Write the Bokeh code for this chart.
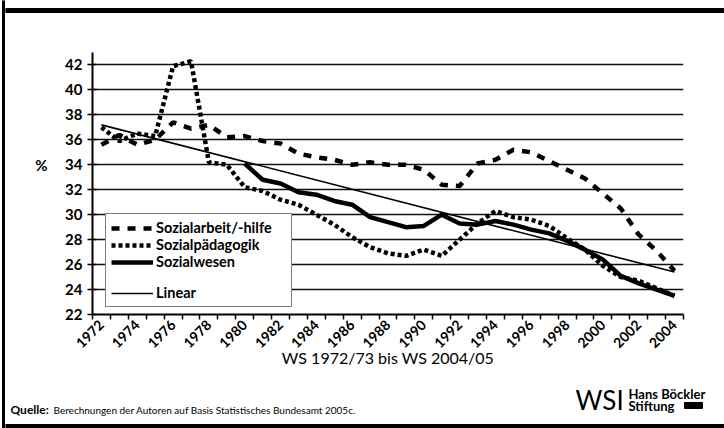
import math
from bokeh.plotting import figure
from bokeh.layouts import row, column
from bokeh.models import Range1d, FixedTicker, Legend, LegendItem, LinearAxis
from bokeh.core.properties import value
from bokeh.embed import file_html
from bokeh.resources import INLINE

nan = float("nan")

years = list(range(1972, 2005))
sozialarbeit = [35.6, 36.4, 35.6, 36.0, 37.4, 36.9, 37.2, 36.2, 36.3, 35.9,
                35.7, 34.9, 34.6, 34.4, 34.0, 34.2, 34.0, 34.0, 33.6, 32.4,
                32.3, 34.1, 34.4, 35.2, 35.0, 34.3, 33.6, 32.9, 31.7, 30.5,
                28.4, 27.1, 25.5]
sozialpaedagogik = [37.0, 35.9, 36.5, 36.3, 41.9, 42.3, 34.2, 34.0, 32.2, 31.9,
                    31.2, 30.8, 30.0, 29.2, 28.2, 27.4, 26.9, 26.7, 27.2, 26.7,
                    28.0, 29.3, 30.3, 29.8, 29.6, 29.1, 28.1, 27.2, 25.9, 25.0,
                    24.7, 24.1, 23.5]
sozialwesen = [nan, nan, nan, nan, nan, nan, nan, nan,
               34.1, 32.8, 32.5, 31.8, 31.6, 31.1, 30.8, 29.8, 29.4, 29.0,
               29.1, 30.0, 29.3, 29.2, 29.5, 29.2, 28.8, 28.5, 27.9, 27.2,
               26.4, 25.1, 24.5, 24.0, 23.5]
linear_years = [1972, 2004]
linear_values = [37.2, 25.4]

y_ticks = list(range(22, 43, 2))
x_tick_years = list(range(1972, 2005, 2))
x_tick_labels = [str(y) for y in x_tick_years]
x_boundaries = [y - 0.5 for y in years] + [years[-1] + 0.5]
unit_tick = [34]

FONT = "Lato"


def blank(width, height, xr, yr):
    f = figure(width=width, height=height, output_backend="svg", toolbar_location=None,
               x_range=Range1d(*xr), y_range=Range1d(*yr),
               x_axis_location=None, y_axis_location=None, min_border=0)
    f.frame_align = False
    f.outline_line_color = None
    f.grid.visible = False
    f.background_fill_color = "white"
    f.border_fill_color = "white"
    return f


# ---------- decorative frame pieces ----------
leftbar = blank(5, 428, (0, 5), (428, 0))
leftbar.quad(left=[2], right=[5], top=[0], bottom=[428], color="black")

topbar = blank(719, 13, (0, 719), (13, 0))
topbar.quad(left=[0], right=[719], top=[8], bottom=[12], color="black")

# ---------- main chart ----------
p = figure(width=719, height=367, output_backend="svg", toolbar_location=None,
           x_range=Range1d(1971.5, 2004.5), y_range=Range1d(22, 43),
           min_border_left=87, min_border_right=41, min_border_top=39,
           min_border_bottom=66)
p.frame_align = False
p.outline_line_color = None
p.background_fill_color = "white"
p.border_fill_color = "white"

p.xgrid.grid_line_color = None
p.ygrid.ticker = FixedTicker(ticks=y_ticks)
p.ygrid.grid_line_color = "#111111"
p.ygrid.grid_line_width = 1.6

p.yaxis.ticker = FixedTicker(ticks=y_ticks)
p.yaxis.axis_line_color = "black"
p.yaxis.axis_line_width = 2
p.yaxis.major_tick_line_color = "black"
p.yaxis.major_tick_line_width = 1.5
p.yaxis.major_tick_out = 5
p.yaxis.major_tick_in = 4
p.yaxis.minor_tick_line_color = None
p.yaxis.major_label_text_font = FONT
p.yaxis.major_label_text_font_style = "bold"
p.yaxis.major_label_text_font_size = "15px"
p.yaxis.major_label_text_color = "black"
p.yaxis.major_label_standoff = 5

# "%" unit shown as an extra left axis label at the 34 level
unit_axis = LinearAxis(ticker=FixedTicker(ticks=unit_tick),
                       major_label_overrides={t: "%" for t in unit_tick},
                       axis_line_color=None, major_tick_line_color=None,
                       minor_tick_line_color=None, major_label_standoff=9,
                       major_label_text_font=FONT, major_label_text_font_style="bold",
                       major_label_text_font_size="15px", major_label_text_color="black")
p.add_layout(unit_axis, "left")

p.xaxis.ticker = FixedTicker(ticks=x_tick_years, minor_ticks=x_boundaries)
p.xaxis.major_label_overrides = {y: s for y, s in zip(x_tick_years, x_tick_labels)}
p.xaxis.axis_line_color = "black"
p.xaxis.axis_line_width = 2
p.xaxis.major_tick_line_color = None
p.xaxis.minor_tick_line_color = "black"
p.xaxis.minor_tick_line_width = 1.5
p.xaxis.minor_tick_out = 5
p.xaxis.minor_tick_in = 0
p.xaxis.major_label_orientation = math.pi / 4
p.xaxis.major_label_text_font = FONT
p.xaxis.major_label_text_font_style = "bold"
p.xaxis.major_label_text_font_size = "14px"
p.xaxis.major_label_text_color = "black"
p.xaxis.major_label_standoff = 2
p.xaxis.axis_label = "WS 1972/73 bis WS 2004/05"
p.xaxis.axis_label_text_font = FONT
p.xaxis.axis_label_text_font_style = "normal"
p.xaxis.axis_label_text_font_size = "16px"
p.xaxis.axis_label_text_color = "black"
p.xaxis.axis_label_standoff = -8

r1 = p.line(years, sozialarbeit, line_color="black", line_width=4.5, line_dash="8 8")
r2 = p.line(years, sozialpaedagogik, line_color="black", line_width=4.5, line_dash="4 3")
r3 = p.line(years, sozialwesen, line_color="black", line_width=4.5)
r4 = p.line(linear_years, linear_values, line_color="black", line_width=1.6)
r_blank = p.line([], [], line_alpha=0)

legend = Legend(items=[
    LegendItem(label="Sozialarbeit/-hilfe", renderers=[r1]),
    LegendItem(label="Sozialpädagogik", renderers=[r2]),
    LegendItem(label="Sozialwesen", renderers=[r3]),
    LegendItem(label=" ", renderers=[r_blank]),
    LegendItem(label="Linear", renderers=[r4]),
], location=(13, 7))
legend.label_text_font = FONT
legend.label_text_font_style = "bold"
legend.label_text_font_size = "14.5px"
legend.label_text_color = "black"
legend.label_height = 14
legend.glyph_height = 14
legend.glyph_width = 42
legend.label_width = 130
legend.label_standoff = 3
legend.spacing = 0
legend.padding = 5
legend.margin = 0
legend.border_line_color = "black"
legend.border_line_width = 1.5
legend.background_fill_color = "white"
legend.background_fill_alpha = 1
p.add_layout(legend)

# ---------- footer ----------
footer = blank(719, 48, (0, 719), (48, 0))
footer.text(x=[5], y=[29], text=["Quelle:"], text_font=value(FONT),
            text_font_style="bold", text_font_size="12px", text_color="black",
            text_align="left", text_baseline="middle")
footer.text(x=[48], y=[29],
            text=["Berechnungen der Autoren auf Basis Statistisches Bundesamt 2005c."],
            text_font=value(FONT), text_font_size="10px", text_color="black",
            text_align="left", text_baseline="middle")
footer.text(x=[570], y=[19], text=["WSI"], text_font=value(FONT),
            text_font_size="26px", text_color="black",
            text_align="left", text_baseline="middle")
footer.text(x=[623], y=[13], text=["Hans Böckler"], text_font=value(FONT),
            text_font_style="bold", text_font_size="13px", text_color="black",
            text_align="left", text_baseline="middle")
footer.text(x=[623], y=[25], text=["Stiftung"], text_font=value(FONT),
            text_font_style="bold", text_font_size="13px", text_color="black",
            text_align="left", text_baseline="middle")
footer.quad(left=[679], right=[697], top=[22], bottom=[28], color="black")
footer.quad(left=[0], right=[719], top=[44], bottom=[47], color="black")

layout = row(leftbar, column(topbar, p, footer))

open("out.html", "w").write(file_html(layout, INLINE))
